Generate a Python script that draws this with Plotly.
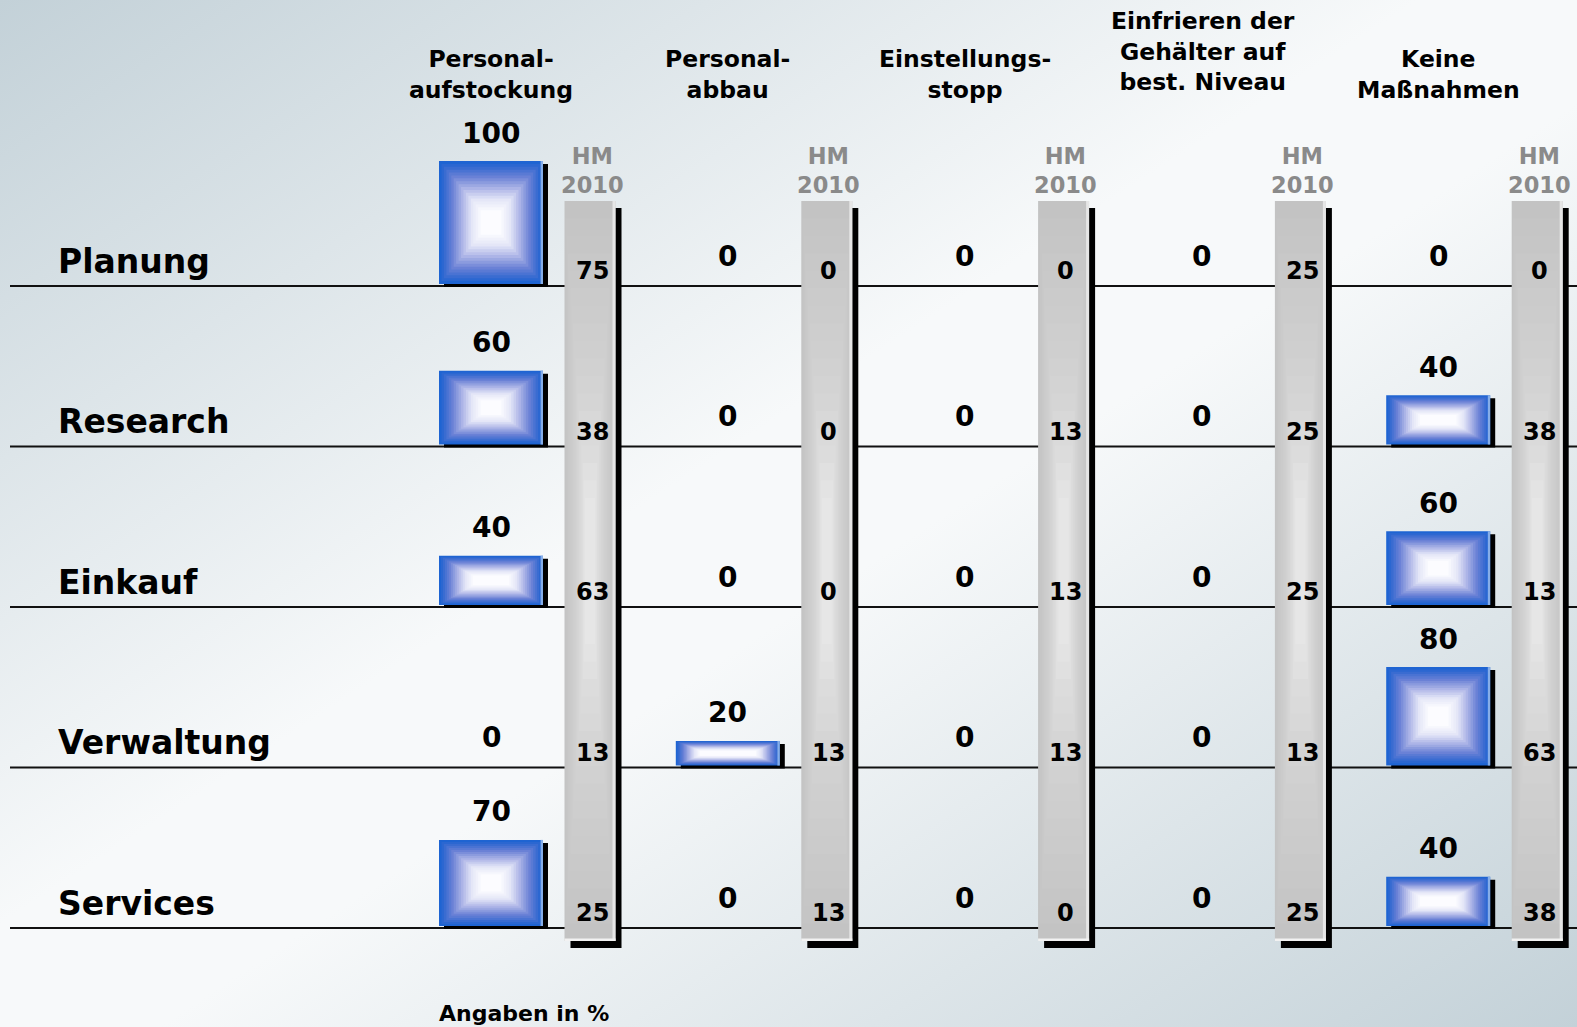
import base64
import plotly.graph_objects as go

# ---------------- data ----------------
categories = ["Planung", "Research", "Einkauf", "Verwaltung", "Services"]
measures = ["Personal-<br>aufstockung", "Personal-<br>abbau", "Einstellungs-<br>stopp",
            "Einfrieren der<br>Gehälter auf<br>best. Niveau", "Keine<br>Maßnahmen"]

personalaufstockung = [100, 60, 40, 0, 70]
personalabbau = [0, 0, 0, 20, 0]
einstellungsstopp = [0, 0, 0, 0, 0]
einfrieren_gehaelter = [0, 0, 0, 0, 0]
keine_massnahmen = [0, 40, 60, 80, 40]

hm2010_personalaufstockung = [75, 38, 63, 13, 25]
hm2010_personalabbau = [0, 0, 0, 13, 13]
hm2010_einstellungsstopp = [0, 13, 13, 13, 0]
hm2010_einfrieren_gehaelter = [25, 25, 25, 13, 25]
hm2010_keine_massnahmen = [0, 38, 13, 63, 38]

hm_label = "HM<br>2010"
note = "Angaben in %"

series = [personalaufstockung, personalabbau, einstellungsstopp,
          einfrieren_gehaelter, keine_massnahmen]
hm_series = [hm2010_personalaufstockung, hm2010_personalabbau, hm2010_einstellungsstopp,
             hm2010_einfrieren_gehaelter, hm2010_keine_massnahmen]

# ---------------- geometry (pixel based scale setup) ----------------
W, H = 1577, 1027
PX_X = 236.8      # px per group on the x axis
PX_Y = 1.23       # px per percent on the y axis
X0_PX = 491       # px position of first group
Y0_PX = 284       # px position of first row baseline
ROW_STEP_PX = 160.5
BAR_W_PX = 104
PIL_W_PX = 51
PIL_OFF_PX = 99
PIL_TOP_PX = 201
PIL_BOT_PX = 941
PIL_LABEL_OFF_PX = 2
HEADER_SHIFT_PX = [0, 0, 0, -8, 0]


def dx(px):
    return px / PX_X


def dy(px):
    return px / PX_Y


def ypx(px):  # absolute pixel row -> y value
    return (Y0_PX - px) / PX_Y


row_base = [-r * ROW_STEP_PX / PX_Y for r in range(len(categories))]

FONT = "DejaVu Sans"


def interp(stops, t):
    for (t0, c0), (t1, c1) in zip(stops[:-1], stops[1:]):
        if t <= t1:
            u = 0 if t1 == t0 else (t - t0) / (t1 - t0)
            c = [round(a + (b - a) * u) for a, b in zip(c0, c1)]
            return f"rgb({c[0]},{c[1]},{c[2]})"
    c = stops[-1][1]
    return f"rgb({c[0]},{c[1]},{c[2]})"


blue_stops = [(0.0, (30, 100, 210)), (0.08, (48, 104, 208)), (0.3, (108, 130, 214)),
              (0.55, (178, 185, 232)), (0.75, (226, 229, 247)), (1.0, (252, 252, 255))]
grey_stops = [(0.0, (195, 195, 195)), (0.5, (208, 208, 208)), (0.8, (219, 219, 219)),
              (1.0, (230, 230, 230))]

fig = go.Figure()


def add_bar(x, y, base, width, color):
    fig.add_trace(go.Bar(x=x, y=y, base=base, width=width,
                         marker=dict(color=color, line=dict(width=0)),
                         hoverinfo="skip", showlegend=False))


# ---------- pillars (HM 2010) ----------
pil_x = [g + dx(PIL_OFF_PX) for g in range(len(series))]
pil_top = ypx(PIL_TOP_PX)
pil_bot = ypx(PIL_BOT_PX)
pil_h = pil_top - pil_bot
add_bar([x + dx(6) for x in pil_x], [pil_h] * 5, [pil_bot - dy(7)] * 5, [dx(PIL_W_PX)] * 5, "black")
NP = 18
for k in range(NP):
    f = 0.85 * k / NP
    add_bar(pil_x, [pil_h * (1 - f)] * 5, [pil_bot + pil_h * f / 2] * 5,
            [dx(PIL_W_PX) * (1 - f)] * 5, interp(grey_stops, k / (NP - 1)))
add_bar([x + dx(PIL_W_PX / 2 - 1.5) for x in pil_x], [pil_h] * 5, [pil_bot] * 5, [dx(3)] * 5, "#e6e6e6")
add_bar(pil_x, [dy(2.5)] * 5, [pil_bot] * 5, [dx(PIL_W_PX)] * 5, "#f2f2f2")

# ---------- blue bars ----------
sx, sy, sb = [], [], []
for g, vals in enumerate(series):
    for r, v in enumerate(vals):
        if v > 0:
            sx.append(g + dx(5)); sy.append(v); sb.append(row_base[r] - dy(3))
add_bar(sx, sy, sb, [dx(BAR_W_PX)] * len(sx), "black")

NB = 18
for k in range(NB):
    t = k / (NB - 1)
    xs, ys, bs, ws = [], [], [], []
    for g, vals in enumerate(series):
        for r, v in enumerate(vals):
            if v <= 0:
                continue
            hpx = v * PX_Y
            iy = t * 0.8 * hpx / 2
            ix = t * min(0.8 * BAR_W_PX / 2, 0.8 * hpx / 2 + 14)
            xs.append(g)
            ys.append(v - dy(2 * iy))
            bs.append(row_base[r] + dy(iy))
            ws.append(dx(BAR_W_PX - 2 * ix))
    add_bar(xs, ys, bs, ws, interp(blue_stops, t))

ex, ey, eb = [], [], []
for g, vals in enumerate(series):
    for r, v in enumerate(vals):
        if v > 0:
            ex.append(g + dx(BAR_W_PX / 2 - 1.2)); ey.append(v); eb.append(row_base[r])
add_bar(ex, ey, eb, [dx(2.4)] * len(ex), "#86aee8")

# ---------- annotations ----------
ann = []
for g, vals in enumerate(series):
    for r, v in enumerate(vals):
        ann.append(dict(x=g, y=row_base[r] + v + dy(28), text=str(v), xanchor="center",
                        yanchor="middle", font=dict(family=FONT, size=28, color="black", weight="bold")))
    ann.append(dict(x=g + dx(2 if g == 3 else 0), y=ypx(106 + HEADER_SHIFT_PX[g]), text=measures[g],
                    xanchor="center", yanchor="bottom",
                    font=dict(family=FONT, size=23.5, color="black", weight="bold")))
for g, vals in enumerate(hm_series):
    px_ = pil_x[g] + dx(PIL_LABEL_OFF_PX)
    for r, v in enumerate(vals):
        ann.append(dict(x=px_, y=row_base[r] + dy(13), text=str(v), xanchor="center",
                        yanchor="middle", font=dict(family=FONT, size=24, color="black", weight="bold")))
    ann.append(dict(x=px_, y=ypx(170), text=hm_label, xanchor="center", yanchor="middle",
                    font=dict(family=FONT, size=22.5, color="#8a8a8a", weight="bold")))
for r, c in enumerate(categories):
    ann.append(dict(xref="paper", x=56 / W, y=row_base[r] + dy(23), text=c, xanchor="left",
                    yanchor="middle", font=dict(family=FONT, size=33, color="black", weight="bold")))
ann.append(dict(xref="paper", x=524 / W, y=ypx(1013), text=note, xanchor="center", yanchor="middle",
                font=dict(family=FONT, size=22, color="black", weight="bold")))
for a in ann:
    a["showarrow"] = False
    a.setdefault("xref", "x")
    a["yref"] = "y"

# ---------- row lines ----------
shapes = [dict(type="line", xref="paper", yref="y", x0=10 / W, x1=1, y0=b - dy(2), y1=b - dy(2),
               line=dict(color="#111111", width=2), layer="below") for b in row_base]

# ---------- background gradient ----------
svg = ('<svg xmlns="http://www.w3.org/2000/svg" width="1577" height="1027" preserveAspectRatio="none">'
       '<defs><linearGradient id="g" x1="0" y1="0" x2="1" y2="1">'
       '<stop offset="0" stop-color="#c3d1d8"/><stop offset="0.45" stop-color="#f7f9fa"/>'
       '<stop offset="0.55" stop-color="#f7f9fa"/><stop offset="1" stop-color="#c3d1d8"/>'
       '</linearGradient></defs><rect width="1577" height="1027" fill="url(#g)"/></svg>')
bg = "data:image/svg+xml;base64," + base64.b64encode(svg.encode()).decode()

fig.update_layout(
    autosize=True, margin=dict(l=0, r=0, t=0, b=0),
    barmode="overlay", paper_bgcolor="white", plot_bgcolor="rgba(0,0,0,0)",
    xaxis=dict(range=[-X0_PX / PX_X, (W - X0_PX) / PX_X], visible=False, fixedrange=True),
    yaxis=dict(range=[(Y0_PX - H) / PX_Y, Y0_PX / PX_Y], visible=False, fixedrange=True),
    annotations=ann, shapes=shapes,
    images=[dict(source=bg, xref="paper", yref="paper", x=0, y=1, sizex=1, sizey=1,
                 sizing="stretch", layer="below", xanchor="left", yanchor="top")],
    showlegend=False,
)
fig.write_html(
    "out.html",
    config={"displayModeBar": False, "responsive": True},
    default_width="100vw", default_height="100vh",
    post_script=("document.documentElement.style.overflow='hidden';"
                 "document.body.style.margin='0';document.body.style.overflow='hidden';"
                 "Plotly.Plots.resize(document.getElementById('{plot_id}'));"),
)
